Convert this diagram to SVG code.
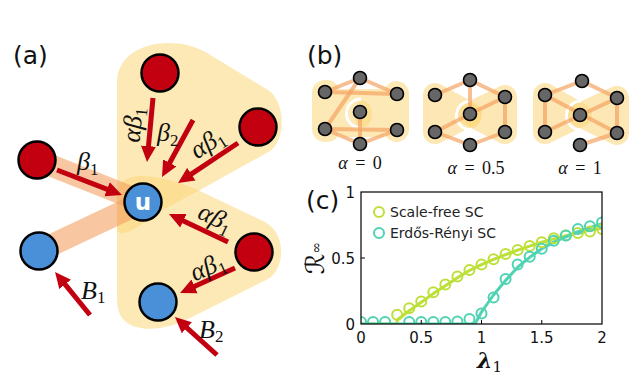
<svg xmlns="http://www.w3.org/2000/svg" width="641" height="383" viewBox="0 0 641 383">
<style>
.lab{font-family:"DejaVu Sans",sans-serif;font-size:25px;fill:#111}
.math{font-family:"Liberation Serif",serif;font-style:italic;font-size:26px;fill:#111}
.sub{font-size:17px;font-style:normal}
.hy{fill:#FCD77A;fill-opacity:.55}
.band{stroke:#F4A262;stroke-opacity:.6;stroke-width:22;fill:none}
.red{fill:#C20010;stroke:#000;stroke-width:2.5}
.blue{fill:#4A90D9;stroke:#000;stroke-width:2.5}
.arr{stroke:#C20010;stroke-width:5;fill:none;marker-end:url(#ah)}
.e{stroke:#F4A262;stroke-opacity:.7;stroke-width:4;fill:none}
.gn{fill:#666;stroke:#000;stroke-width:1.6}
.tri{fill:#FCD77A;stroke:#FCD77A;stroke-width:24;stroke-linejoin:round}
.tick{font-family:"DejaVu Sans",sans-serif;font-size:15px;fill:#111}
.leg{font-family:"DejaVu Sans",sans-serif;font-size:14px;fill:#222}
.sf{stroke:#BDE038;stroke-width:2;fill:none}
.er{stroke:#4FD3B2;stroke-width:2;fill:none}
</style>
<defs>
<marker id="ah" markerUnits="userSpaceOnUse" markerWidth="16" markerHeight="16" refX="1" refY="8" orient="auto"><path d="M0,0.5 L16,8 L0,15.5 z" fill="#C20010"/></marker>
<clipPath id="ax"><rect x="361" y="192" width="241" height="132"/></clipPath>
</defs>

<!-- panel (a) -->
<text class="lab" x="13" y="64">(a)</text>
<g id="hyperedges-a">
<path class="hy" d="M117 232 L117 82 C117 58 140 43 168 43 C183 43 195 46 207 53 L268 90 C286 102 286 140 270 151 L200 190 C180 201 165 208 150 218 C137 228 126 236 117 232 Z"/>
<path class="hy" d="M117 195 C117 182 128 175 145 176 C160 177 180 182 200 191 L265 222 C286 233 286 268 268 279 L192 317 C168 330 140 333 126 322 C119 316 117 308 117 298 Z"/>
</g>
<g id="connectors">
<line class="band" x1="37" y1="160" x2="143" y2="202"/>
<line class="band" x1="39" y1="251" x2="143" y2="202"/>
</g>
<g id="node-top"><circle class="red" cx="160" cy="73" r="18.5"/></g>
<g id="node-right-upper"><circle class="red" cx="258" cy="127" r="18.5"/></g>
<g id="node-left-red"><circle class="red" cx="37" cy="160" r="18.5"/></g>
<g id="node-right-lower"><circle class="red" cx="254" cy="252" r="18.5"/></g>
<g id="node-left-blue"><circle class="blue" cx="39" cy="251" r="18.5"/></g>
<g id="node-bottom-blue"><circle class="blue" cx="158" cy="302" r="18.5"/></g>
<g id="node-u"><circle class="blue" cx="143" cy="202" r="18.5"/>
<text x="143" y="209.5" text-anchor="middle" style="font-family:'DejaVu Sans',sans-serif;font-weight:bold;font-size:23px;fill:#fff">u</text></g>
<g id="arrows">
<line class="arr" x1="57" y1="170" x2="108" y2="189.6"/>
<line class="arr" x1="153" y1="98" x2="148.4" y2="147.1"/>
<line class="arr" x1="193" y1="120" x2="169.2" y2="163.8"/>
<line class="arr" x1="238" y1="143" x2="190.5" y2="174.7"/>
<line class="arr" x1="228" y1="242" x2="182.5" y2="220.4"/>
<line class="arr" x1="235" y1="268" x2="193.7" y2="286.8"/>
<line class="arr" x1="90" y1="315" x2="64.5" y2="283.6"/>
<line class="arr" x1="217" y1="355" x2="186.1" y2="327.1"/>
</g>
<g id="labels-a">
<text class="math" x="77" y="170">β<tspan class="sub" dy="5">1</tspan></text>
<text class="math" transform="translate(134,125) rotate(-85)" x="0" y="7" text-anchor="middle">αβ<tspan class="sub" dy="5">1</tspan></text>
<text class="math" x="157" y="141">β<tspan class="sub" dy="5">2</tspan></text>
<text class="math" transform="translate(208,144) rotate(-33)" x="0" y="7" text-anchor="middle">αβ<tspan class="sub" dy="5">1</tspan></text>
<text class="math" transform="translate(215,219) rotate(26)" x="0" y="7" text-anchor="middle">αβ<tspan class="sub" dy="5">1</tspan></text>
<text class="math" transform="translate(208,268) rotate(-24)" x="0" y="7" text-anchor="middle">αβ<tspan class="sub" dy="5">1</tspan></text>
<text class="math" x="81" y="299">B<tspan class="sub" dy="4">1</tspan></text>
<text class="math" x="199" y="338">B<tspan class="sub" dy="4">2</tspan></text>
</g>

<!-- panel (b) -->
<text class="lab" x="307" y="64">(b)</text>
<g id="graph-alpha0">
<rect class="hy" x="312" y="80" width="28" height="62" rx="13"/>
<rect class="hy" x="384" y="81" width="25" height="61" rx="12.5"/>
<rect class="hy" x="340" y="89" width="44" height="48"/>
<ellipse class="hy" cx="363" cy="114" rx="9" ry="13"/>
<path d="M361 99 A14 14 0 0 0 361 128" stroke="#fff" stroke-width="3" fill="none"/>
<line class="e" x1="360" y1="78" x2="325" y2="92"/>
<line class="e" x1="360" y1="78" x2="397" y2="94"/>
<line class="e" x1="325" y1="92" x2="397" y2="94"/>
<line class="e" x1="360" y1="78" x2="325" y2="129"/>
<line class="e" x1="325" y1="129" x2="397" y2="130"/>
<line class="e" x1="325" y1="129" x2="360" y2="144"/>
<line class="e" x1="360" y1="144" x2="397" y2="130"/>
<line class="e" x1="360" y1="112" x2="360" y2="144"/>
<circle class="gn" cx="360" cy="78" r="6.5"/><circle class="gn" cx="325" cy="92" r="6.5"/><circle class="gn" cx="397" cy="94" r="6.5"/><circle class="gn" cx="360" cy="112" r="6.5"/><circle class="gn" cx="325" cy="129" r="6.5"/><circle class="gn" cx="397" cy="130" r="6.5"/><circle class="gn" cx="360" cy="144" r="6.5"/>
<text x="360" y="169" text-anchor="middle" style="font-family:'Liberation Serif',serif;font-size:18px;word-spacing:3px;fill:#111"><tspan font-style="italic">α</tspan> = 0</text>
</g>
<g id="graph-alpha05">
<g opacity=".55"><polygon class="tri" points="435,95 435,132 470,114"/></g>
<g opacity=".55"><polygon class="tri" points="505,97 505,132 470,114"/></g>
<ellipse class="hy" cx="473" cy="116" rx="8" ry="12"/>
<path d="M471 101 A14 14 0 0 0 471 130" stroke="#fff" stroke-width="3" fill="none"/>
<line class="e" x1="470" y1="80" x2="435" y2="95"/>
<line class="e" x1="470" y1="80" x2="505" y2="97"/>
<line class="e" x1="470" y1="80" x2="470" y2="114"/>
<line class="e" x1="470" y1="114" x2="505" y2="97"/>
<line class="e" x1="470" y1="114" x2="435" y2="132"/>
<line class="e" x1="505" y1="97" x2="505" y2="132"/>
<line class="e" x1="435" y1="132" x2="470" y2="145"/>
<line class="e" x1="470" y1="145" x2="505" y2="132"/>
<circle class="gn" cx="470" cy="80" r="6.5"/><circle class="gn" cx="435" cy="95" r="6.5"/><circle class="gn" cx="505" cy="97" r="6.5"/><circle class="gn" cx="470" cy="114" r="6.5"/><circle class="gn" cx="435" cy="132" r="6.5"/><circle class="gn" cx="505" cy="132" r="6.5"/><circle class="gn" cx="470" cy="145" r="6.5"/>
<text x="476" y="174" text-anchor="middle" style="font-family:'Liberation Serif',serif;font-size:18px;word-spacing:3px;fill:#111"><tspan font-style="italic">α</tspan> = 0.5</text>
</g>
<g id="graph-alpha1">
<g opacity=".55"><polygon class="tri" points="545,95 545,132 580,115"/></g>
<g opacity=".55"><polygon class="tri" points="617,98 617,133 580,115"/></g>
<path d="M581 101 A14 14 0 0 0 581 130" stroke="#fff" stroke-width="3" fill="none"/>
<line class="e" x1="582" y1="81" x2="545" y2="95"/>
<line class="e" x1="582" y1="81" x2="617" y2="98"/>
<line class="e" x1="545" y1="95" x2="545" y2="132"/>
<line class="e" x1="617" y1="98" x2="617" y2="133"/>
<line class="e" x1="545" y1="95" x2="617" y2="133"/>
<line class="e" x1="617" y1="98" x2="545" y2="132"/>
<line class="e" x1="580" y1="145" x2="617" y2="133"/>
<circle class="gn" cx="582" cy="81" r="6.5"/><circle class="gn" cx="545" cy="95" r="6.5"/><circle class="gn" cx="617" cy="98" r="6.5"/><circle class="gn" cx="580" cy="115" r="6.5"/><circle class="gn" cx="545" cy="132" r="6.5"/><circle class="gn" cx="617" cy="133" r="6.5"/><circle class="gn" cx="580" cy="145" r="6.5"/>
<text x="580" y="174" text-anchor="middle" style="font-family:'Liberation Serif',serif;font-size:18px;word-spacing:3px;fill:#111"><tspan font-style="italic">α</tspan> = 1</text>
</g>

<!-- panel (c) -->
<text class="lab" x="306" y="209">(c)</text>
<g id="plot">
<g clip-path="url(#ax)">
<polyline points="361,324 397.15,324 397.15,320 409.2,310.8 421.25,302.2 433.3,293.6 445.35,285.7 457.4,277.8 469.45,270.5 481.5,264.6 493.55,259.3 505.6,254.7 517.65,250.1 529.7,246.1 541.75,242.2 553.8,238.9 565.85,235.6 577.9,232.9 589.95,230.3 602,228.3" stroke="#BDE038" stroke-width="3" fill="none" stroke-linejoin="round"/>
<polyline points="361,324 475,324 481.5,312 493.55,295 505.6,280.4 517.65,267.2 529.7,257.3 541.75,248.8 553.8,242.1 565.85,236.9 577.9,231.6 589.95,227.6 602,223.7" stroke="#4FD3B2" stroke-width="3" fill="none" stroke-linejoin="round"/>
<g class="sf">
<circle cx="397.15" cy="314.8" r="5"/><circle cx="409.2" cy="308.2" r="5"/><circle cx="421.25" cy="301.6" r="5"/><circle cx="433.3" cy="292.3" r="5"/><circle cx="445.35" cy="284.4" r="5"/><circle cx="457.4" cy="276.5" r="5"/><circle cx="469.45" cy="269.9" r="5"/><circle cx="481.5" cy="264.6" r="5"/><circle cx="493.55" cy="259.3" r="5"/><circle cx="505.6" cy="254" r="5"/><circle cx="517.65" cy="250.1" r="5"/><circle cx="529.7" cy="246.1" r="5"/><circle cx="541.75" cy="242.2" r="5"/><circle cx="553.8" cy="238.2" r="5"/><circle cx="565.85" cy="235.6" r="5"/><circle cx="577.9" cy="232.9" r="5"/><circle cx="589.95" cy="231.6" r="5"/><circle cx="602" cy="229" r="5"/>
</g>
<g class="er">
<circle cx="361" cy="322" r="5"/><circle cx="373.05" cy="322" r="5"/><circle cx="385.1" cy="322" r="5"/><circle cx="409.2" cy="322" r="5"/><circle cx="421.25" cy="322" r="5"/><circle cx="433.3" cy="322" r="5"/><circle cx="445.35" cy="322" r="5"/><circle cx="457.4" cy="321.5" r="5"/><circle cx="469.45" cy="319" r="5"/><circle cx="481.5" cy="313.4" r="5"/><circle cx="493.55" cy="297.6" r="5"/><circle cx="505.6" cy="279.1" r="5"/><circle cx="517.65" cy="264.6" r="5"/><circle cx="529.7" cy="256.7" r="5"/><circle cx="541.75" cy="248.8" r="5"/><circle cx="553.8" cy="240.8" r="5"/><circle cx="565.85" cy="235.6" r="5"/><circle cx="577.9" cy="229" r="5"/><circle cx="589.95" cy="226.3" r="5"/><circle cx="602" cy="222.4" r="5"/>
</g>
</g>
<rect x="361" y="192" width="241" height="132" fill="none" stroke="#000" stroke-width="1.2"/>
<path d="M421.25 324 v-4 M481.5 324 v-4 M541.75 324 v-4 M361 258 h4" stroke="#000" stroke-width="1"/>
<text class="tick" x="361" y="343" text-anchor="middle">0</text>
<text class="tick" x="421.25" y="343" text-anchor="middle">0.5</text>
<text class="tick" x="481.5" y="343" text-anchor="middle">1</text>
<text class="tick" x="541.75" y="343" text-anchor="middle">1.5</text>
<text class="tick" x="602" y="343" text-anchor="middle">2</text>
<text class="tick" x="355" y="329.5" text-anchor="end">0</text>
<text class="tick" x="355" y="263.5" text-anchor="end">0.5</text>
<text class="tick" x="355" y="197.5" text-anchor="end">1</text>
<text transform="translate(324,258) rotate(-90)" text-anchor="middle" style="font-family:'DejaVu Serif','DejaVu Sans',serif;font-size:26px;fill:#111">ℛ<tspan font-size="14" dy="-3">∞</tspan></text>
<text x="477" y="368" style="font-family:'DejaVu Serif',serif;font-style:italic;font-weight:bold;font-size:22px;fill:#111">λ<tspan font-size="15" font-weight="normal" font-style="normal" dy="4">1</tspan></text>
<circle class="sf" cx="379" cy="212" r="5"/>
<circle class="er" cx="379" cy="233" r="5"/>
<text class="leg" x="390" y="217">Scale-free SC</text>
<text class="leg" x="390" y="238">Erdős-Rényi SC</text>
</g>
</svg>
